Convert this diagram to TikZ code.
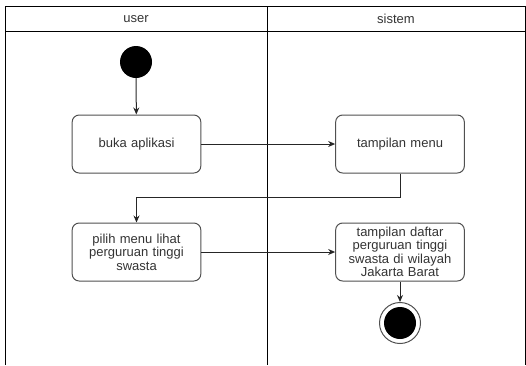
\documentclass[tikz,border=0pt]{standalone}
\usepackage{fontspec}
\setmainfont{Liberation Sans}
\usetikzlibrary{arrows.meta}
\definecolor{linegray}{HTML}{505050}
\definecolor{textgray}{HTML}{333333}
\tikzset{
  lane/.style={draw=black, line width=1pt},
  header/.style={text=textgray, font=\fontsize{13}{13.5}\selectfont},
  action/.style={draw=linegray, line width=1pt, rounded corners=7pt,
    minimum width=127pt, minimum height=58pt, text width=122pt, align=center,
    text=textgray, font=\fontsize{13}{13.5}\selectfont},
  start/.style={circle, fill=black, minimum size=32pt, inner sep=0pt},
  finish/.style={circle, draw=linegray, line width=1pt, minimum size=41pt, inner sep=0pt,
    path picture={\fill[black] (path picture bounding box.center) circle[radius=16pt];}},
  flow/.style={draw=black!85, line width=1pt, -{Stealth[length=7pt,width=6pt]}},
}
\begin{document}
\begin{tikzpicture}[x=1pt,y=-1pt]
    \useasboundingbox (0,0) rectangle (526,365);
    %% swimlanes
    \draw[lane] (5,365) -- (5,6) -- (525,6) -- (525,365);
    \draw[lane] (5,31) -- (525,31);
    \draw[lane] (267,6) -- (267,365);
    \node[header] (user) at (136,19) {user};
    \node[header] (sistem) at (396,19) {sistem};
    %% activities
    \node[start] (mulai) at (136,62) {};
    \node[action] (buka) at (136.5,144) {buka aplikasi};
    \node[action] (menu) at (400,144) {tampilan menu};
    \node[action] (pilih) at (136.5,252) {pilih menu lihat\\perguruan tinggi\\swasta};
    \node[action] (daftar) at (400,252) {tampilan daftar\\perguruan tinggi\\swasta di wilayah\\Jakarta Barat};
    \node[finish] (selesai) at (400,323) {};
    %% flows
    \draw[flow] (mulai) -- (buka);
    \draw[flow] (buka) -- (menu);
    \draw[flow] (menu.south) -- ++(0,24) -| (pilih.north);
    \draw[flow] (pilih) -- (daftar);
    \draw[flow] (daftar) -- (selesai);
\end{tikzpicture}
\end{document}
